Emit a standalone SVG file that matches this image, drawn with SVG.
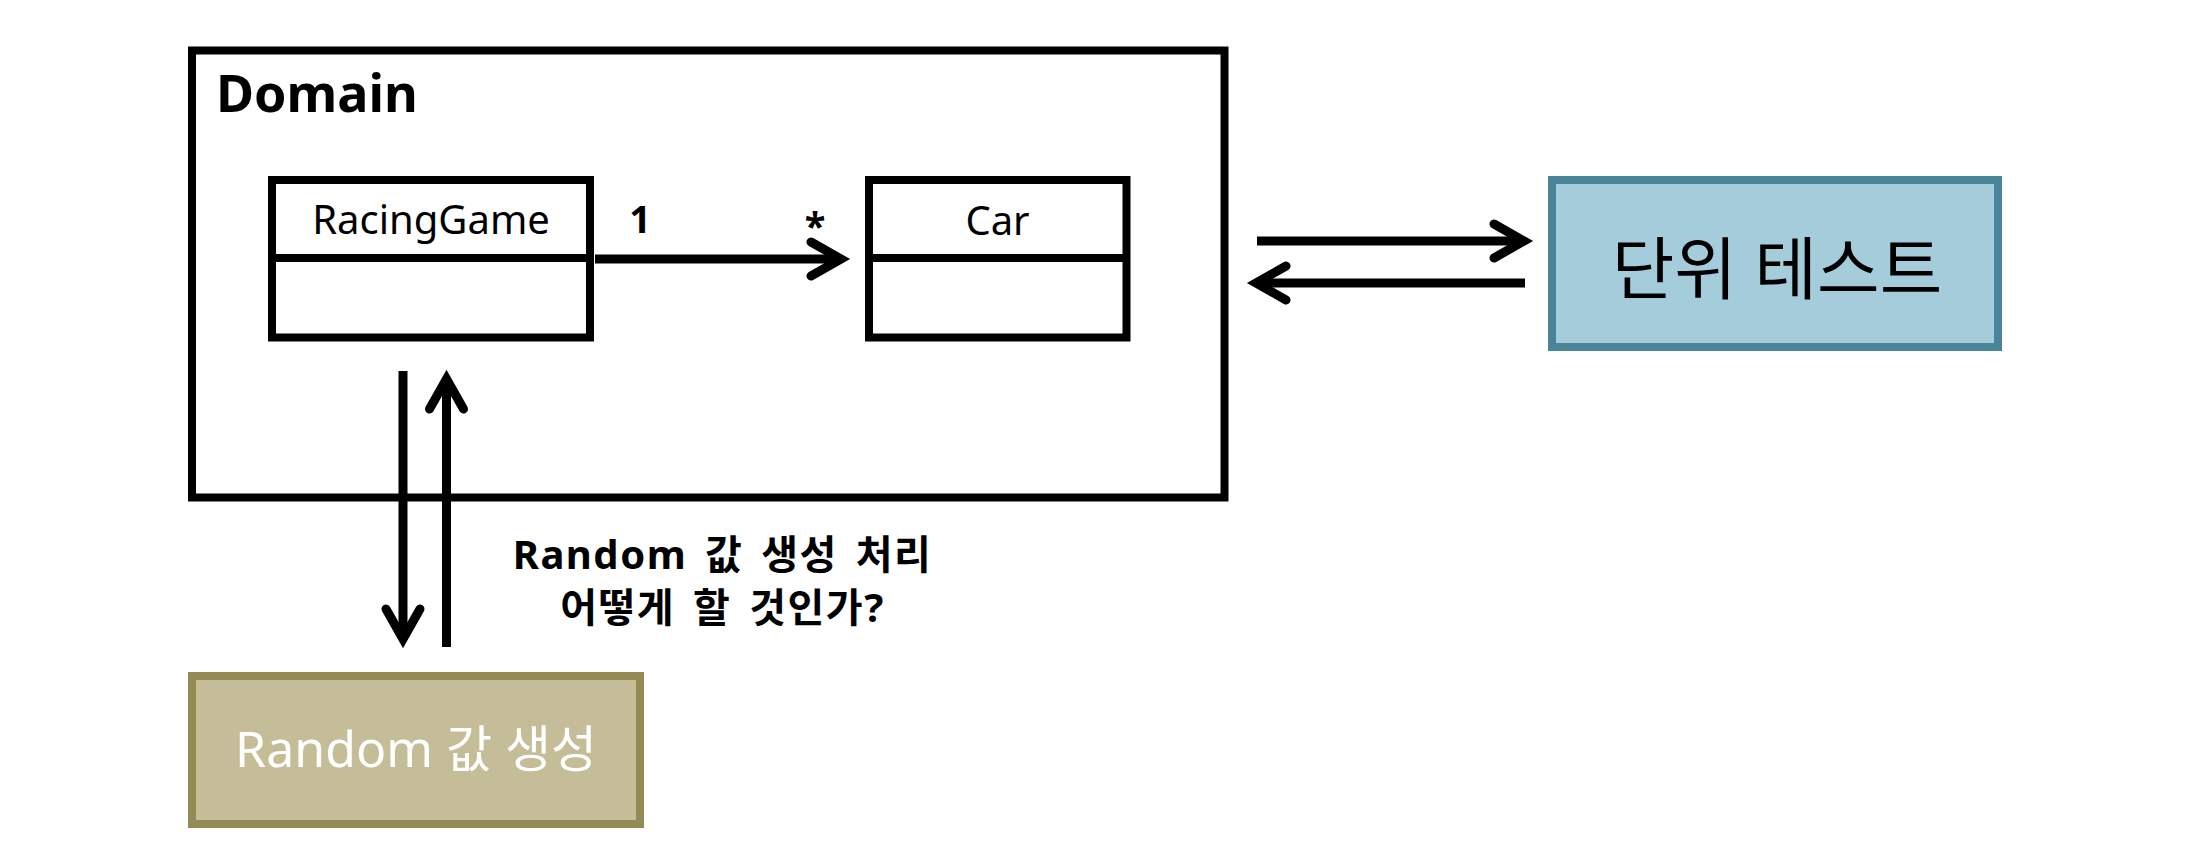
<svg xmlns="http://www.w3.org/2000/svg" width="2188" height="858" viewBox="0 0 2188 858">
  <style>
    text { font-family: 'Noto Sans', 'Noto Sans CJK KR', sans-serif; fill: #000; }
    .frame { fill: none; stroke: #000; stroke-width: 8; }
    .cls { fill: #fff; stroke: #000; stroke-width: 8; }
    .div { stroke: #000; stroke-width: 8; }
    .cname { font-size: 40px; text-anchor: middle; }
    .flow { fill: none; stroke: #000; stroke-width: 9; stroke-linecap: butt; }
    .mult { font-size: 38px; font-weight: bold; text-anchor: middle; }
    .note { font-size: 40px; font-weight: bold; text-anchor: middle; word-spacing: 6px; letter-spacing: 1.5px; }
  </style>
  <defs>
    <marker id="chev" markerUnits="userSpaceOnUse" viewBox="-40 -30 60 60" refX="0" refY="0" markerWidth="60" markerHeight="60" orient="auto" overflow="visible">
      <path d="M -30 -17 L 0 0 L -30 17" fill="none" stroke="#000" stroke-width="9" stroke-linecap="round" stroke-linejoin="miter" stroke-miterlimit="10"/>
    </marker>
  </defs>

  <rect width="2188" height="858" fill="#fff"/>

  <!-- package frame -->
  <g id="domain">
    <rect class="frame" x="192" y="50.5" width="1032.5" height="447"/>
    <text x="216" y="112" font-size="52" font-weight="bold">Domain</text>
  </g>

  <!-- class: RacingGame -->
  <g id="racing-game">
    <rect class="cls" x="272" y="180" width="318" height="157.5"/>
    <line class="div" x1="272" y1="258" x2="590" y2="258"/>
    <text class="cname" x="431" y="234">RacingGame</text>
  </g>

  <!-- class: Car -->
  <g id="car">
    <rect class="cls" x="869" y="180" width="257.5" height="157.5"/>
    <line class="div" x1="869" y1="258" x2="1126.5" y2="258"/>
    <text class="cname" x="997.5" y="235">Car</text>
  </g>

  <!-- unit test -->
  <g id="unit-test">
    <rect x="1552" y="180" width="446" height="167" fill="#A5CCDB" stroke="#4A8499" stroke-width="8"/>
    <text x="1777" y="294" font-size="68" text-anchor="middle">단위 테스트</text>
  </g>

  <!-- random value source -->
  <g id="random-gen">
    <rect x="192" y="676" width="448" height="148" fill="#C4BD97" stroke="#948A54" stroke-width="8"/>
    <text x="416" y="767" font-size="50" text-anchor="middle" style="fill:#fff">Random 값 생성</text>
  </g>

  <!-- connectors -->
  <g id="connectors">
    <line class="flow" x1="595" y1="259" x2="841" y2="259" marker-end="url(#chev)"/>
    <line class="flow" x1="1257" y1="241" x2="1524" y2="241" marker-end="url(#chev)"/>
    <line class="flow" x1="1525" y1="283" x2="1256" y2="283" marker-end="url(#chev)"/>
    <line class="flow" x1="403" y1="371" x2="403" y2="639" marker-end="url(#chev)"/>
    <line class="flow" x1="446.5" y1="647" x2="446.5" y2="379" marker-end="url(#chev)"/>
    <text class="mult" x="640" y="233">1</text>
    <text class="mult" x="815" y="240" font-size="34" font-weight="normal">*</text>
    <text class="note" x="722.5" y="569">Random 값 생성 처리</text>
    <text class="note" x="722.5" y="622">어떻게 할 것인가?</text>
  </g>
</svg>
